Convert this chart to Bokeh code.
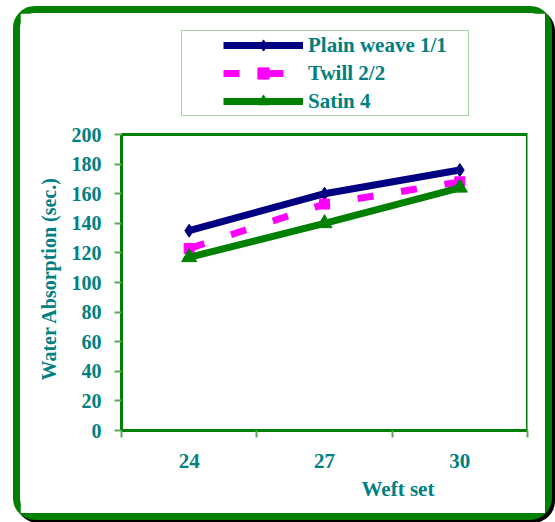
from bokeh.plotting import figure
from bokeh.layouts import column
from bokeh.models import FixedTicker, Legend, LegendItem, Range1d, Title
from bokeh.embed import file_html
from bokeh.resources import INLINE

# ---- data ----
weft = ["24", "27", "30"]
plain = [135, 160, 176]
twill = [123, 153, 168]
satin = [117, 140, 164]
y_ticks = [0, 20, 40, 60, 80, 100, 120, 140, 160, 180, 200]
Y_MAX = 200

TEAL = "#008080"
GREEN = "#008000"
TICKG = "#5aa85a"
FONT = "Liberation Serif"

# layout (canvas pixels)
W, H = 525, 500
F_LEFT, F_RIGHT, F_TOP, F_BOTTOM = 101, 507, 10, 417   # plotting frame
AX_TOP = 121                                            # pixel where Y_MAX sits
y_top = Y_MAX * (F_BOTTOM - F_TOP) / (F_BOTTOM - AX_TOP)

p = figure(width=W, height=H, output_backend="svg", toolbar_location=None,
           x_range=Range1d(0, len(weft)), y_range=Range1d(0, y_top),
           min_border_left=F_LEFT, min_border_right=W - F_RIGHT,
           min_border_top=F_TOP, min_border_bottom=H - F_BOTTOM, margin=0)
p.background_fill_color = "white"
p.border_fill_color = "white"
p.outline_line_color = None
p.xgrid.visible = False
p.ygrid.visible = False

xs = [i + 0.5 for i in range(len(weft))]

# top and right edges of the plot box
p.line([0, len(weft), len(weft)], [Y_MAX, Y_MAX, 0], line_color=GREEN,
       line_width=3, line_join="miter")

# ---- series ----
l1 = p.line(xs, plain, line_color="#000080", line_width=7)
m1 = p.scatter(xs, plain, marker="diamond", size=13, fill_color="#000080", line_color="#000080")
l2 = p.line(xs, twill, line_color="#FF00FF", line_width=7, line_dash="16 28")
m2 = p.scatter(xs, twill, marker="square", size=10, fill_color="#FF00FF", line_color="#FF00FF")
l3 = p.line(xs, satin, line_color=GREEN, line_width=7)
m3 = p.scatter(xs, satin, marker="triangle", size=15, fill_color=GREEN, line_color=GREEN)

# ---- axes ----
xa = p.xaxis[0]
xa.ticker = FixedTicker(ticks=xs, minor_ticks=list(range(len(weft) + 1)))
xa.major_label_overrides = {x: w for x, w in zip(xs, weft)}
xa.major_tick_line_color = None
xa.major_tick_out = 7
xa.minor_tick_out = 7
xa.minor_tick_in = 0
xa.minor_tick_line_color = TICKG
xa.minor_tick_line_width = 2
xa.axis_line_color = GREEN
xa.axis_line_width = 3
xa.major_label_standoff = 16
xa.major_label_text_font = FONT
xa.major_label_text_font_style = "bold"
xa.major_label_text_font_size = "21px"
xa.major_label_text_color = TEAL

ya = p.yaxis[0]
ya.ticker = FixedTicker(ticks=y_ticks)
ya.bounds = (0, Y_MAX)
ya.major_tick_out = 7
ya.major_tick_in = 0
ya.minor_tick_line_color = None
ya.major_tick_line_color = TICKG
ya.major_tick_line_width = 2
ya.axis_line_color = GREEN
ya.axis_line_width = 3
ya.major_label_standoff = 13
ya.major_label_text_font = FONT
ya.major_label_text_font_style = "bold"
ya.major_label_text_font_size = "20px"
ya.major_label_text_color = TEAL

p.add_layout(Title(text="Water Absorption (sec.)", align="left", offset=50, standoff=17,
                   text_font=FONT, text_font_style="bold", text_font_size="20px",
                   text_color=TEAL), "left")

p.add_layout(Title(text="Weft set", align="left", offset=240, standoff=8,
                   text_font=FONT, text_font_style="bold", text_font_size="21px",
                   text_color=TEAL), "below")

# ---- legend ----
legend = Legend(items=[
    LegendItem(label="Plain weave 1/1", renderers=[l1, m1]),
    LegendItem(label="Twill 2/2", renderers=[l2, m2]),
    LegendItem(label="Satin 4", renderers=[l3, m3]),
], location=(60, 314), orientation="vertical",
    title=" ", title_location="left", title_text_font_size="1px", title_standoff=40,
    glyph_width=80, glyph_height=28, label_height=28, label_standoff=5,
    label_width=160, spacing=0, padding=0, margin=0,
    border_line_color="#4da64d", border_line_width=1.5, background_fill_color="white",
    label_text_font=FONT, label_text_font_style="bold", label_text_font_size="21px",
    label_text_color=TEAL)
p.add_layout(legend, "center")

lay = column(p, margin=(6, 0, 0, 13),
             styles={"border": "7px solid #008000", "border-radius": "22px",
                     "box-shadow": "3px 3px 0px 0px #000000",
                     "background-color": "white"})

open("out.html", "w").write(file_html(lay, INLINE))
